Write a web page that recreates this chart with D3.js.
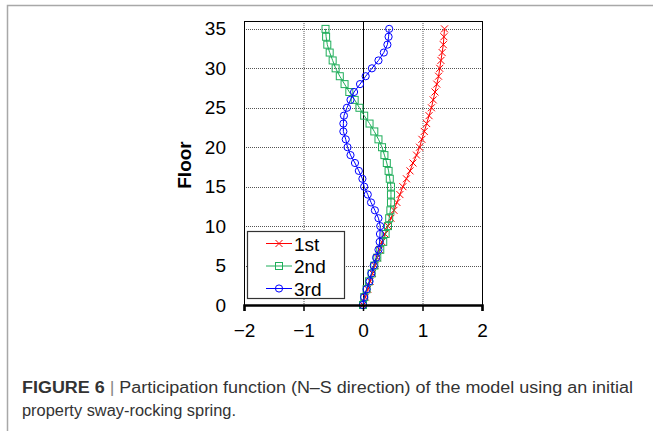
<!DOCTYPE html>
<html>
<head>
<meta charset="utf-8">
<script src="https://cdn.jsdelivr.net/npm/d3@7"></script>
<style>
  body { margin: 0; background: #fff; }
  text { font-family: "Liberation Sans", Arial, sans-serif; }
</style>
</head>
<body>
<script>
// floors 0..35
var floors = d3.range(0, 36);
var first = [0,0.04,0.08,0.12,0.16,0.20,0.24,0.28,0.32,0.37,0.42,0.47,0.52,0.57,0.62,0.67,0.73,0.79,0.84,0.90,
  0.95,0.99,1.03,1.07,1.11,1.15,1.18,1.21,1.24,1.27,1.29,1.31,1.33,1.35,1.36,1.37];
var second = [0,0.02,0.06,0.10,0.145,0.19,0.24,0.29,0.34,0.38,0.42,0.44,0.46,0.47,0.47,0.47,0.45,0.43,0.40,0.36,
  0.32,0.26,0.19,0.11,0.02,-0.06,-0.14,-0.23,-0.31,-0.39,-0.46,-0.51,-0.56,-0.60,-0.62,-0.63];
var third = [0,0.02,0.06,0.11,0.14,0.18,0.22,0.26,0.28,0.285,0.29,0.26,0.20,0.135,0.08,0.02,-0.01,-0.07,-0.135,-0.21,
  -0.26,-0.29,-0.33,-0.33,-0.32,-0.27,-0.21,-0.15,-0.05,0.045,0.15,0.26,0.35,0.41,0.43,0.44];
var seriesNames = ["1st", "2nd", "3rd"];
var xTicks = [-2, -1, 0, 1, 2];
var yTicks = [0, 5, 10, 15, 20, 25, 30, 35];

var series = [
  {name: seriesNames[0], values: first, color: "#ff0000", marker: "cross"},
  {name: seriesNames[1], values: second, color: "#1fae5a", marker: "square"},
  {name: seriesNames[2], values: third, color: "#0000ff", marker: "circle"}
];

var width = 653, height = 431;
var svg = d3.select("body").append("svg")
    .attr("width", width)
    .attr("height", height);

// figure frame (left + top rule)
svg.append("path")
    .attr("d", "M7.5,431 L7.5,5.5 L653,5.5")
    .attr("fill", "none")
    .attr("stroke", "#a8a8a8")
    .attr("stroke-width", 1.5);

var x = d3.scaleLinear().domain([-2, 2]).range([244, 482]);
var y = d3.scaleLinear().domain([0, 36]).range([305, 21]);

var g = svg.append("g");

// grid lines
g.selectAll(".vgrid")
    .data(xTicks.filter(function(d) { return d !== 0 && d !== -2 && d !== 2; }))
  .enter().append("line")
    .attr("x1", function(d) { return x(d) + 0.5; })
    .attr("x2", function(d) { return x(d) + 0.5; })
    .attr("y1", y(36)).attr("y2", y(0))
    .attr("stroke", "#555").attr("stroke-width", 1)
    .attr("stroke-dasharray", "1,1");

g.selectAll(".hgrid")
    .data(yTicks.filter(function(d) { return d !== 0; }))
  .enter().append("line")
    .attr("x1", x(-2)).attr("x2", x(2))
    .attr("y1", function(d) { return Math.round(y(d)) + 0.5; })
    .attr("y2", function(d) { return Math.round(y(d)) + 0.5; })
    .attr("stroke", "#555").attr("stroke-width", 1)
    .attr("stroke-dasharray", "1,1");

// zero line
g.append("line")
    .attr("x1", x(0) + 0.5).attr("x2", x(0) + 0.5)
    .attr("y1", y(36)).attr("y2", y(0))
    .attr("stroke", "#000").attr("stroke-width", 1);

// plot frame
g.append("rect")
    .attr("x", x(-2) + 0.5).attr("y", y(36) + 0.5)
    .attr("width", x(2) - x(-2)).attr("height", y(0) - y(36))
    .attr("fill", "none").attr("stroke", "#000").attr("stroke-width", 1);

// x axis
var xAxis = d3.axisBottom(x).tickValues(xTicks).tickFormat(d3.format("d")).tickSize(6).tickPadding(13);
var xg = svg.append("g")
    .attr("transform", "translate(0," + y(0) + ")")
    .call(xAxis);
xg.select(".domain").attr("stroke-width", 2.5);
xg.selectAll("line").attr("stroke-width", 1.5);
xg.selectAll("text")
    .attr("font-family", "Liberation Sans, Arial, sans-serif")
    .attr("font-size", 19).attr("fill", "#000");

// y axis
var yAxis = d3.axisLeft(y).tickValues(yTicks).tickSize(0).tickPadding(18);
var yg = svg.append("g")
    .attr("transform", "translate(" + x(-2) + ",0)")
    .call(yAxis);
yg.select(".domain").remove();
yg.selectAll("text")
    .attr("font-family", "Liberation Sans, Arial, sans-serif")
    .attr("font-size", 19).attr("fill", "#000");

svg.append("text")
    .attr("transform", "translate(191,165) rotate(-90)")
    .attr("text-anchor", "middle")
    .attr("font-size", 19)
    .attr("font-weight", "bold")
    .text("Floor");

function drawMarker(sel, type, color) {
  if (type === "cross") {
    sel.append("path").attr("d", "M-3.5,-3.5L3.5,3.5M-3.5,3.5L3.5,-3.5")
      .attr("stroke", color).attr("stroke-width", 1).attr("fill", "none");
  } else if (type === "square") {
    sel.append("rect").attr("x", -3.5).attr("y", -3.5).attr("width", 7).attr("height", 7)
      .attr("stroke", color).attr("stroke-width", 1).attr("fill", "none");
  } else {
    sel.append("circle").attr("r", 3.6)
      .attr("stroke", color).attr("stroke-width", 1).attr("fill", "none");
  }
}

var line = d3.line()
    .x(function(d) { return x(d.v); })
    .y(function(d) { return y(d.f); });

series.forEach(function(s) {
  var pts = floors.map(function(f, i) { return {f: f, v: s.values[i]}; });
  var sg = g.append("g");
  sg.append("path")
      .datum(pts)
      .attr("d", line)
      .attr("fill", "none")
      .attr("stroke", s.color)
      .attr("stroke-width", 1);
  sg.selectAll(".pt")
      .data(pts)
    .enter().append("g")
      .attr("transform", function(d) { return "translate(" + x(d.v) + "," + y(d.f) + ")"; })
      .each(function() { drawMarker(d3.select(this), s.marker, s.color); });
});

// legend
var lg = svg.append("g").attr("transform", "translate(247,231)");
lg.append("rect")
    .attr("x", 0.5).attr("y", 0.5).attr("width", 97).attr("height", 67)
    .attr("fill", "#fff").attr("stroke", "#333").attr("stroke-width", 1.2);
series.forEach(function(s, i) {
  var ly = 12.5 + i * 22.5;
  var row = lg.append("g").attr("transform", "translate(0," + ly + ")");
  row.append("line").attr("x1", 19).attr("x2", 45).attr("y1", 0).attr("y2", 0)
    .attr("stroke", s.color).attr("stroke-width", 1);
  drawMarker(row.append("g").attr("transform", "translate(32,0)"), s.marker, s.color);
  row.append("text").attr("x", 47).attr("y", 7)
    .attr("font-size", 19).text(s.name);
});

// caption
var cap1 = svg.append("text")
    .attr("x", 22).attr("y", 393)
    .attr("font-size", 16).attr("fill", "#333")
    .attr("textLength", 611).attr("lengthAdjust", "spacingAndGlyphs");
cap1.append("tspan").attr("font-weight", "bold").text("FIGURE 6");
cap1.append("tspan").attr("fill", "#888").text(" | ");
cap1.append("tspan").text("Participation function (N\u2013S direction) of the model using an initial");
svg.append("text")
    .attr("x", 22).attr("y", 416)
    .attr("font-size", 16).attr("fill", "#333")
    .attr("textLength", 214).attr("lengthAdjust", "spacingAndGlyphs")
    .text("property sway-rocking spring.");
</script>
</body>
</html>
